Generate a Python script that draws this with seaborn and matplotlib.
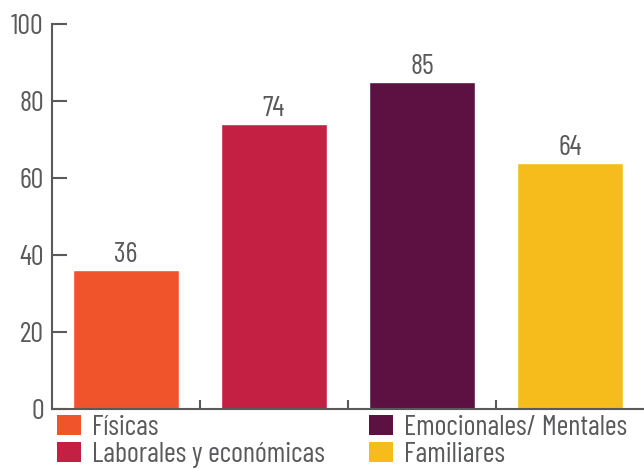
import matplotlib
matplotlib.use("Agg")
import matplotlib.pyplot as plt
import seaborn as sns
from matplotlib.patches import Patch

# Data
categories = ["Físicas", "Laborales y económicas", "Emocionales/ Mentales", "Familiares"]
values = [36, 74, 85, 64]
colors = ["#F0542B", "#C42043", "#5C1142", "#F5BC1B"]
yticks = [0, 20, 40, 60, 80, 100]

sns.set_theme(style="white")
plt.rcParams["font.family"] = ["Barlow Condensed", "DejaVu Sans"]
plt.rcParams["font.weight"] = "normal"

gray = "#595a5c"
fs = 20.5

fig = plt.figure(figsize=(6.44, 4.70), dpi=100)
ax = fig.add_axes([0.0807, 0.1298, 0.9193, 0.8191])

sns.barplot(x=categories, y=values, hue=categories, palette=colors,
            width=0.72, saturation=1, legend=False, ax=ax)

for cont in ax.containers:
    ax.bar_label(cont, padding=1.5, fontsize=fs, color=gray)

ax.set_xlim(-0.5, 3.5)
ax.set_ylim(0, 100)
ax.set_yticks(yticks)
ax.set_yticklabels([str(t) for t in yticks])
ax.set_xticks([0.5, 1.5, 2.5])
ax.set_xticklabels([])
ax.set_xlabel("")
ax.set_ylabel("")

ax.tick_params(axis="y", direction="in", length=11, width=1.5, color=gray,
               labelcolor=gray, labelsize=fs, pad=6, left=True)
ax.tick_params(axis="x", direction="in", length=6.5, width=1.5, color=gray,
               bottom=True)

for side in ["top", "right"]:
    ax.spines[side].set_visible(False)
for side in ["left", "bottom"]:
    ax.spines[side].set_color(gray)
    ax.spines[side].set_linewidth(1.5)

handles = [Patch(facecolor=c, edgecolor="none") for c in colors]
fpx = fs * 100 / 72
common = dict(frameon=False, fontsize=fs, labelcolor=gray, loc="upper left",
              borderpad=0, borderaxespad=0, handlelength=24 / fpx,
              handleheight=20 / fpx, handletextpad=11 / fpx, labelspacing=0.04)
leg1 = fig.legend(handles[:2], categories[:2], bbox_to_anchor=(57 / 644, 1 - 415 / 470), **common)
leg2 = fig.legend(handles[2:], categories[2:], bbox_to_anchor=(369 / 644, 1 - 415 / 470), **common)

fig.savefig("out.png", dpi=100)
